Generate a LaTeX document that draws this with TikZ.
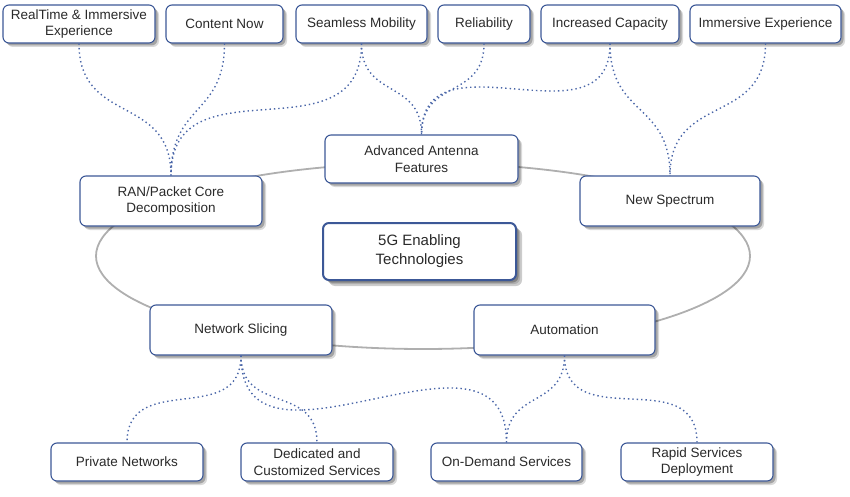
\documentclass[tikz,border=0pt]{standalone}
\usepackage{fontspec}
\setmainfont{Liberation Sans}
\usetikzlibrary{shadows}
\definecolor{BoxBlue}{HTML}{3C5897}
\definecolor{DotBlue}{HTML}{4A66A8}
\definecolor{RingGray}{HTML}{AFAFAF}
\definecolor{TextGray}{HTML}{2A2A2A}
\begin{document}
\begin{tikzpicture}[x=1pt,y=1pt]
\tikzstyle{box}=[rectangle,rounded corners=6pt,draw=BoxBlue,line width=1.1pt,fill=white,text=TextGray,align=center,font=\fontsize{13.5}{16.5}\selectfont,inner sep=0pt,minimum height=38pt,drop shadow={shadow xshift=4pt,shadow yshift=-4pt,fill=black,opacity=0.15},drop shadow={shadow xshift=2.5pt,shadow yshift=-2.5pt,fill=black,opacity=0.25}]
\tikzstyle{hub}=[box,minimum height=50pt]
\tikzstyle{core}=[box,line width=2pt,font=\fontsize{15}{19}\selectfont,drop shadow={shadow xshift=6pt,shadow yshift=-6pt,fill=black,opacity=0.2}]
\tikzstyle{link}=[DotBlue,line width=1.4pt,dash pattern=on 1.4pt off 3pt,out=-90,in=90,looseness=1.3]
\useasboundingbox (0,0) rectangle (850,496);
\draw[RingGray,line width=1.8pt] (423,240) ellipse (327pt and 93pt);
\node[box,minimum width=152pt] (rt) at (79,472) {RealTime \& Immersive\\Experience};
\node[box,minimum width=117pt] (cn) at (224.5,472) {Content Now};
\node[box,minimum width=131pt] (sm) at (361.5,472) {Seamless Mobility};
\node[box,minimum width=92pt] (rel) at (484,472) {Reliability};
\node[box,minimum width=138pt] (ic) at (610,472) {Increased Capacity};
\node[box,minimum width=151pt] (ie) at (765.5,472) {Immersive Experience};
\node[hub,minimum width=193pt,minimum height=48pt] (ant) at (421.5,337) {Advanced Antenna\\Features};
\node[hub,minimum width=182pt] (ran) at (171,295) {RAN/Packet Core\\Decomposition};
\node[core,minimum width=193pt,minimum height=57pt] (tech) at (419.5,244.5) {5G Enabling\\Technologies};
\node[hub,minimum width=180pt] (spec) at (670,295) {New Spectrum};
\node[hub,minimum width=182pt] (slice) at (241,166) {Network Slicing};
\node[hub,minimum width=181pt] (auto) at (564.5,166) {Automation};
\node[box,minimum width=152pt] (priv) at (127,34) {Private Networks};
\node[box,minimum width=152pt] (ded) at (317,34) {Dedicated and\\Customized Services};
\node[box,minimum width=151pt] (ond) at (506.5,34) {On-Demand Services};
\node[box,minimum width=152pt] (rapid) at (697,34) {Rapid Services\\Deployment};
\draw[link] (rt.south) to (ran.north);
\draw[link] (cn.south) to (ran.north);
\draw[link] (sm.south) to (ran.north);
\draw[link] (sm.south) to (ant.north);
\draw[link] (rel.south) to (ant.north);
\draw[link] (ic.south) to (ant.north);
\draw[link] (ic.south) to (spec.north);
\draw[link] (ie.south) to (spec.north);
\draw[link] (slice.south) to (priv.north);
\draw[link] (slice.south) to (ded.north);
\draw[link] (slice.south) to (ond.north);
\draw[link] (auto.south) to (ond.north);
\draw[link] (auto.south) to (rapid.north);
\end{tikzpicture}
\end{document}
